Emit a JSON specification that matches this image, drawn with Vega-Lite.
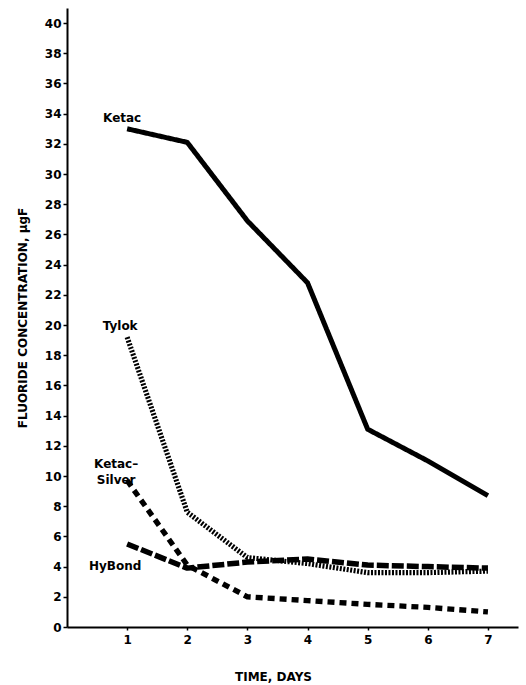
{
  "$schema": "https://vega.github.io/schema/vega-lite/v6.json",
  "width": 451,
  "height": 619,
  "autosize": {"type": "none"},
  "padding": {"left": 67, "top": 8, "right": 8, "bottom": 58},
  "background": "white",
  "config": {
    "view": {"stroke": null},
    "font": "DejaVu Sans",
    "axis": {"grid": false, "domainColor": "black", "domainWidth": 2, "tickColor": "black", "tickWidth": 1.5, "labelColor": "black", "titleColor": "black", "labelFont": "DejaVu Sans", "titleFont": "DejaVu Sans"}
  },
  "data": {
    "values": [
      {"series": "Ketac", "day": 1, "value": 33.0},
      {"series": "Ketac", "day": 2, "value": 32.1},
      {"series": "Ketac", "day": 3, "value": 26.9},
      {"series": "Ketac", "day": 4, "value": 22.8},
      {"series": "Ketac", "day": 5, "value": 13.1},
      {"series": "Ketac", "day": 6, "value": 11.0},
      {"series": "Ketac", "day": 7, "value": 8.7},
      {"series": "Tylok", "day": 1, "value": 19.2},
      {"series": "Tylok", "day": 2, "value": 7.6},
      {"series": "Tylok", "day": 3, "value": 4.6},
      {"series": "Tylok", "day": 4, "value": 4.2},
      {"series": "Tylok", "day": 5, "value": 3.6},
      {"series": "Tylok", "day": 6, "value": 3.6},
      {"series": "Tylok", "day": 7, "value": 3.7},
      {"series": "Ketac-Silver", "day": 1, "value": 9.7},
      {"series": "Ketac-Silver", "day": 2, "value": 4.1},
      {"series": "Ketac-Silver", "day": 3, "value": 2.0},
      {"series": "Ketac-Silver", "day": 4, "value": 1.75},
      {"series": "Ketac-Silver", "day": 5, "value": 1.5},
      {"series": "Ketac-Silver", "day": 6, "value": 1.3},
      {"series": "Ketac-Silver", "day": 7, "value": 1.0},
      {"series": "HyBond", "day": 1, "value": 5.5},
      {"series": "HyBond", "day": 2, "value": 3.9},
      {"series": "HyBond", "day": 3, "value": 4.3},
      {"series": "HyBond", "day": 4, "value": 4.5},
      {"series": "HyBond", "day": 5, "value": 4.1},
      {"series": "HyBond", "day": 6, "value": 4.0},
      {"series": "HyBond", "day": 7, "value": 3.9}
    ]
  },
  "encoding": {
    "x": {
      "field": "day", "type": "quantitative",
      "scale": {"domain": [0, 7.5], "nice": false},
      "axis": {"values": [1, 2, 3, 4, 5, 6, 7], "title": "TIME, DAYS", "titleFontSize": 12, "titleFontWeight": "bold", "titlePadding": 26, "titleX": 206, "labelFontSize": 12, "labelFontWeight": "bold", "tickSize": 3, "labelPadding": 4}
    },
    "y": {
      "field": "value", "type": "quantitative",
      "scale": {"domain": [0, 41], "nice": false},
      "axis": {"values": [0, 2, 4, 6, 8, 10, 12, 14, 16, 18, 20, 22, 24, 26, 28, 30, 32, 34, 36, 38, 40], "title": "FLUORIDE CONCENTRATION, μgF", "titleFontSize": 12, "titleFontWeight": "bold", "titlePadding": 15, "labelFontSize": 12, "labelFontWeight": "bold", "tickSize": 4, "labelPadding": 2}
    }
  },
  "layer": [
    {
      "mark": {"type": "line", "color": "black", "strokeCap": "butt", "strokeJoin": "round"},
      "encoding": {
        "detail": {"field": "series"},
        "strokeDash": {
          "field": "series", "type": "nominal",
          "scale": {"domain": ["Ketac", "Tylok", "Ketac-Silver", "HyBond"], "range": [[1, 0], [2, 1.5], [7, 5], [12, 3]]},
          "legend": null
        },
        "strokeWidth": {
          "field": "series", "type": "nominal",
          "scale": {"domain": ["Ketac", "Tylok", "Ketac-Silver", "HyBond"], "range": [5, 5.5, 2.5, 4.5]},
          "legend": null
        }
      }
    },
    {
      "transform": [{"filter": "datum.series === 'Ketac' && datum.day === 1"}],
      "mark": {"type": "text", "text": "Ketac", "fontSize": 12, "fontWeight": "bold", "dx": -5, "dy": -11, "color": "black"}
    },
    {
      "transform": [{"filter": "datum.series === 'Tylok' && datum.day === 1"}],
      "mark": {"type": "text", "text": "Tylok", "fontSize": 12, "fontWeight": "bold", "dx": -7, "dy": -11, "color": "black"}
    },
    {
      "transform": [{"filter": "datum.series === 'Ketac-Silver' && datum.day === 1"}],
      "mark": {"type": "text", "text": ["Ketac–", "Silver"], "lineHeight": 16, "fontSize": 12, "fontWeight": "bold", "dx": -11, "dy": -17, "color": "black"}
    },
    {
      "transform": [{"filter": "datum.series === 'HyBond' && datum.day === 1"}],
      "mark": {"type": "text", "text": "HyBond", "fontSize": 12, "fontWeight": "bold", "dx": -12, "dy": 22, "color": "black"}
    }
  ]
}
